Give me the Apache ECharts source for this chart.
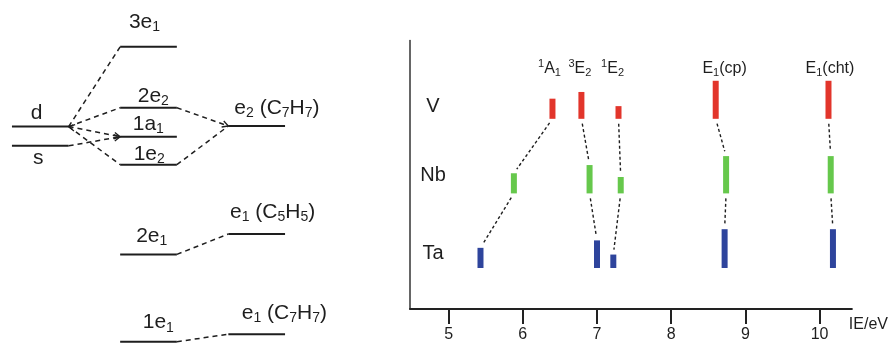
<!DOCTYPE html>
<html>
<head>
<meta charset="utf-8">
<script src="https://cdn.jsdelivr.net/npm/echarts@6/dist/echarts.min.js"></script>
<style>
  html, body { margin: 0; padding: 0; background: #fff; }
  #chart { width: 891px; height: 343px; }
</style>
</head>
<body>
<div id="chart"></div>
<script>
// ---------- Orbital correlation diagram (left panel) ----------
// column: 0 = metal atom, 1 = complex MOs, 2 = ligand fragment orbitals
const levelNames  = ['d', 's', '3e1', '2e2', '1a1', '1e2', 'e2(C7H7)', '2e1', 'e1(C5H5)', '1e1', 'e1(C7H7)'];
const levelColumn = [0, 0, 1, 1, 1, 1, 2, 1, 2, 1, 2];
const levelEnergy = [-4.22, -4.86, -1.56, -3.59, -4.56, -5.49, -4.20, -8.48, -7.80, -11.39, -11.14];
const levelLabels = [
  '{m|d}', '{m|s}', '{m|3e}{s|1}', '{m|2e}{s|2}', '{m|1a}{s|1}', '{m|1e}{s|2}',
  '{m|e}{s|2}{m| (C}{s|7}{m|H}{s|7}{m|)}',
  '{m|2e}{s|1}',
  '{m|e}{s|1}{m| (C}{s|5}{m|H}{s|5}{m|)}',
  '{m|1e}{s|1}',
  '{m|e}{s|1}{m| (C}{s|7}{m|H}{s|7}{m|)}'
];
// correlation lines: right end of "from" level to left end of "to" level
const linkFrom  = [0, 0, 0, 0, 1, 3, 5, 7, 9];
const linkTo    = [2, 3, 4, 5, 4, 6, 6, 8, 10];
// arrowheads: 0 none, 1 at start, 2 at end, 3 both
const linkArrow = [0, 0, 3, 0, 2, 2, 0, 0, 0];

// ---------- Ionization energies (right panel) ----------
const ieTicks = [5, 6, 7, 8, 9, 10];
const metals = ['V', 'Nb', 'Ta'];
const rowBase = [2.55, 1.55, 0.55];
const stateLabels = [
  '{p|1}{m|A}{s|1}', '{p|3}{m|E}{s|2}', '{p|1}{m|E}{s|2}',
  '{m|E}{s|1}{m|(cp)}', '{m|E}{s|1}{m|(cht)}'
];
const stateLabelIE = [6.36, 6.77, 7.21, 8.72, 10.14];
// band positions (eV) per metal, states in the order above
const ieV  = [6.40, 6.79, 7.29, 8.60, 10.12];
const ieNb = [5.88, 6.90, 7.32, 8.74, 10.15];
const ieTa = [5.43, 7.00, 7.22, 8.72, 10.18];
// relative band heights
const hV  = [0.27, 0.36, 0.17, 0.51, 0.51];
const hNb = [0.27, 0.38, 0.22, 0.50, 0.50];
const hTa = [0.27, 0.37, 0.18, 0.52, 0.52];

// ---------- styling / layout ----------
const FONT = "'Liberation Sans', Arial, Helvetica, sans-serif";
const INK = '#1e1e1e';
const rowColors = ['#e2352b', '#66c84c', '#2e449c'];
const LEVEL_HALF = 0.262;
// label offsets in px: centred columns relative to line centre, right column relative to line start
const levelLabelOffset = [
  [-3.6, -13.5], [-2, 12.3], [-4, -24.7], [4.8, -11.7], [-0.2, -12.4], [0.7, -10.7],
  [6, -17.5], [3.2, -18], [1.7, -22], [9.8, -19], [13.4, -21]
];
const ROW_LABEL_IE = 4.79;
const rowLabelLift = [0.17, 0.235, 0.2];
const HEADER_LEVEL = 3.22;

const diagRich = {
  m: { fontSize: 21, lineHeight: 24, verticalAlign: 'middle', fontFamily: FONT, fill: INK },
  s: { fontSize: 14, lineHeight: 12, verticalAlign: 'bottom', fontFamily: FONT, fill: INK }
};
const headRich = {
  m: { fontSize: 16, lineHeight: 20, verticalAlign: 'middle', fontFamily: FONT, fill: INK },
  s: { fontSize: 11, lineHeight: 9, verticalAlign: 'bottom', fontFamily: FONT, fill: INK },
  p: { fontSize: 11, lineHeight: 9, verticalAlign: 'top', fontFamily: FONT, fill: INK }
};

// ---------- derived series data ----------
const levelData = levelColumn.map((c, i) => [c, levelEnergy[i], i]);
const diagLinkData = linkFrom.map((f, k) => {
  const t = linkTo[k];
  return [levelColumn[f] + LEVEL_HALF, levelEnergy[f], levelColumn[t] - LEVEL_HALF, levelEnergy[t], linkArrow[k]];
});

const ieRows = [ieV, ieNb, ieTa];
const hRows = [hV, hNb, hTa];
const bandData = [];
ieRows.forEach((row, r) => row.forEach((ie, s) => bandData.push([ie, rowBase[r], hRows[r][s], r])));
const bandLinkData = [];
for (let r = 0; r < 2; r++) {
  for (let s = 0; s < ieV.length; s++) {
    bandLinkData.push([ieRows[r][s], rowBase[r], ieRows[r + 1][s], rowBase[r + 1] + hRows[r + 1][s]]);
  }
}
const rowLabelData = metals.map((m, r) => [ROW_LABEL_IE, rowBase[r] + rowLabelLift[r], r]);
const headerData = stateLabelIE.map((x, s) => [x, HEADER_LEVEL, s]);

function arrowHead(tip, from) {
  const dx = tip[0] - from[0], dy = tip[1] - from[1];
  const L = Math.hypot(dx, dy) || 1;
  const ux = dx / L, uy = dy / L, len = 6, w = 3.2;
  return {
    type: 'polyline',
    shape: { points: [
      [tip[0] - ux * len - uy * w, tip[1] - uy * len + ux * w],
      [tip[0], tip[1]],
      [tip[0] - ux * len + uy * w, tip[1] - uy * len - ux * w]
    ] },
    style: { stroke: INK, lineWidth: 1.3, fill: null }
  };
}

const chart = echarts.init(document.getElementById('chart'), null, { renderer: 'canvas' });
chart.setOption({
  animation: false,
  backgroundColor: '#fff',
  grid: [
    { left: 0, top: 0, width: 330, height: 343 },
    { left: 410, top: 40.5, width: 445, height: 270 }
  ],
  xAxis: [
    { gridIndex: 0, type: 'value', min: -0.3725, max: 2.6775, show: false },
    {
      gridIndex: 1, type: 'value', min: 4.48, max: 10.435,
      name: 'IE/eV', nameLocation: 'end', nameGap: -3,
      nameTextStyle: { fontSize: 16, fontFamily: FONT, color: INK, align: 'left', verticalAlign: 'top', padding: [8, 0, 0, 0] },
      axisLine: { show: true, lineStyle: { color: '#222', width: 2 } },
      axisTick: { show: true, customValues: ieTicks, length: 15, lineStyle: { color: '#222', width: 2 } },
      axisLabel: { show: true, customValues: ieTicks, fontSize: 16, fontFamily: FONT, color: INK, margin: 18 },
      splitLine: { show: false }
    }
  ],
  yAxis: [
    { gridIndex: 0, type: 'value', min: -11.4333, max: 0, show: false },
    {
      gridIndex: 1, type: 'value', min: 0, max: 3.6,
      axisLine: { show: true, lineStyle: { color: '#333', width: 1.5 } },
      axisTick: { show: false }, axisLabel: { show: false }, splitLine: { show: false }
    }
  ],
  series: [
    {
      // MO energy levels with their labels
      type: 'custom', xAxisIndex: 0, yAxisIndex: 0, clip: false,
      data: levelData,
      renderItem(params, api) {
        const col = api.value(0), e = api.value(1), i = api.value(2);
        const a = api.coord([col - LEVEL_HALF, e]);
        const b = api.coord([col + LEVEL_HALF, e]);
        const off = levelLabelOffset[i];
        const right = col === 2;
        const tx = right ? a[0] + off[0] : (a[0] + b[0]) / 2 + off[0];
        return {
          type: 'group',
          children: [
            { type: 'line', shape: { x1: a[0], y1: a[1], x2: b[0], y2: b[1] }, style: { stroke: INK, lineWidth: 2 } },
            { type: 'text', x: tx, y: a[1] + off[1],
              style: { text: levelLabels[i], rich: diagRich, align: right ? 'left' : 'center', verticalAlign: 'middle', fill: INK, fontFamily: FONT, fontSize: 21 } }
          ]
        };
      }
    },
    {
      // dashed correlation lines
      type: 'custom', xAxisIndex: 0, yAxisIndex: 0, clip: false,
      data: diagLinkData,
      renderItem(params, api) {
        const p = api.coord([api.value(0), api.value(1)]);
        const q = api.coord([api.value(2), api.value(3)]);
        const arrow = api.value(4);
        const children = [
          { type: 'line', shape: { x1: p[0], y1: p[1], x2: q[0], y2: q[1] }, style: { stroke: INK, lineWidth: 1.5, lineDash: [5, 4] } }
        ];
        if (arrow & 1) children.push(arrowHead(p, q));
        if (arrow & 2) children.push(arrowHead(q, p));
        return { type: 'group', children };
      }
    },
    {
      // ionization bands
      type: 'custom', xAxisIndex: 1, yAxisIndex: 1,
      data: bandData,
      renderItem(params, api) {
        const x = api.value(0), base = api.value(1), h = api.value(2), r = api.value(3);
        const p0 = api.coord([x, base]);
        const p1 = api.coord([x, base + h]);
        return { type: 'rect', shape: { x: p0[0] - 3, y: p1[1], width: 6, height: p0[1] - p1[1] }, style: { fill: rowColors[r] } };
      }
    },
    {
      // dotted correlation between metals
      type: 'custom', xAxisIndex: 1, yAxisIndex: 1,
      data: bandLinkData,
      renderItem(params, api) {
        const p = api.coord([api.value(0), api.value(1)]);
        const q = api.coord([api.value(2), api.value(3)]);
        const dx = q[0] - p[0], dy = q[1] - p[1];
        const L = Math.hypot(dx, dy) || 1, gap = 5;
        const ux = dx / L, uy = dy / L;
        return {
          type: 'line',
          shape: { x1: p[0] + ux * gap, y1: p[1] + uy * gap, x2: q[0] - ux * gap, y2: q[1] - uy * gap },
          style: { stroke: INK, lineWidth: 1.4, lineDash: [3, 2.5] }
        };
      }
    },
    {
      // metal row labels
      type: 'custom', xAxisIndex: 1, yAxisIndex: 1,
      data: rowLabelData,
      renderItem(params, api) {
        const p = api.coord([api.value(0), api.value(1)]);
        return { type: 'text', x: p[0], y: p[1],
          style: { text: metals[api.value(2)], fontSize: 20, fontFamily: FONT, fill: INK, align: 'center', verticalAlign: 'middle' } };
      }
    },
    {
      // ionic state labels
      type: 'custom', xAxisIndex: 1, yAxisIndex: 1, clip: false,
      data: headerData,
      renderItem(params, api) {
        const p = api.coord([api.value(0), api.value(1)]);
        return { type: 'text', x: p[0], y: p[1],
          style: { text: stateLabels[api.value(2)], rich: headRich, fontSize: 16, fontFamily: FONT, fill: INK, align: 'center', verticalAlign: 'middle' } };
      }
    }
  ]
});
</script>
</body>
</html>
